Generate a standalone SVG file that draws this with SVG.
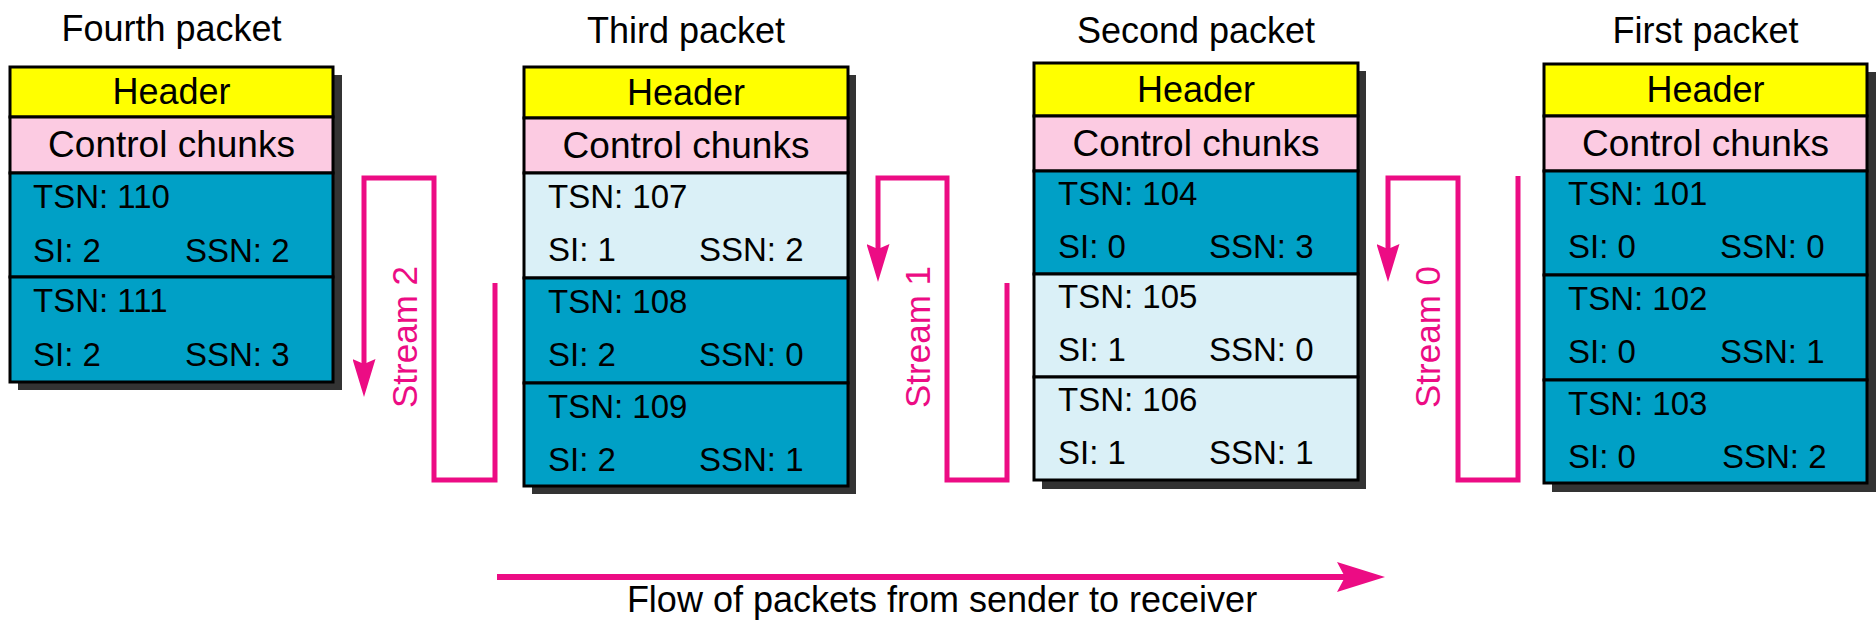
<svg xmlns="http://www.w3.org/2000/svg" width="1876" height="629" viewBox="0 0 1876 629">
<style>
text{font-family:"Liberation Sans",Arial,sans-serif;fill:#000}
.title{font-size:36px;text-anchor:middle}
.lbl{font-size:36px;text-anchor:middle}
.cl{font-size:37px;text-anchor:middle}
.ck{font-size:33px}
.sh{fill:#333}
.sec{stroke:#000;stroke-width:3}
.hd{fill:#ffff00}
.cc{fill:#fccbe2}
.dk{fill:#00a0c6}
.lt{fill:#daf0f7}
.con{fill:none;stroke:#ec0c84;stroke-width:5}
.st{font-size:35px;fill:#ec0c84}
</style>
<defs>
<marker id="ah" markerUnits="userSpaceOnUse" viewBox="0 0 38 23" markerWidth="38" markerHeight="23" refX="5" refY="11.5" orient="auto">
<path d="M0,0 L38,11.5 L0,23 L5,11.5 Z" fill="#ec0c84"/>
</marker>
<marker id="ahb" markerUnits="userSpaceOnUse" viewBox="0 0 48 30" markerWidth="48" markerHeight="30" refX="8" refY="15" orient="auto">
<path d="M0,0 L48,15 L0,30 L8,15 Z" fill="#ec0c84"/>
</marker>
</defs>

<g id="fourth-packet">
<text class="title" x="171.5" y="41">Fourth packet</text>
<rect class="sh" x="18" y="75" width="324" height="315"/>
<rect class="sec hd" x="10" y="67" width="323" height="50"/>
<rect class="sec cc" x="10" y="117" width="323" height="56"/>
<rect class="sec dk" x="10" y="173" width="323" height="104"/>
<rect class="sec dk" x="10" y="277" width="323" height="105"/>
<text class="lbl" x="171.5" y="104">Header</text>
<text class="cl" x="171.5" y="157">Control chunks</text>
<text class="ck" x="33" y="208">TSN: 110</text>
<text class="ck" x="33" y="262">SI: 2</text>
<text class="ck" x="185" y="262">SSN: 2</text>
<text class="ck" x="33" y="312">TSN: 111</text>
<text class="ck" x="33" y="366">SI: 2</text>
<text class="ck" x="185" y="366">SSN: 3</text>
</g>

<g id="third-packet">
<text class="title" x="686" y="43">Third packet</text>
<rect class="sh" x="532" y="75" width="324" height="419"/>
<rect class="sec hd" x="524" y="67" width="324" height="51"/>
<rect class="sec cc" x="524" y="118" width="324" height="55"/>
<rect class="sec lt" x="524" y="173" width="324" height="105"/>
<rect class="sec dk" x="524" y="278" width="324" height="105"/>
<rect class="sec dk" x="524" y="383" width="324" height="103"/>
<text class="lbl" x="686" y="105">Header</text>
<text class="cl" x="686" y="158">Control chunks</text>
<text class="ck" x="548" y="208">TSN: 107</text>
<text class="ck" x="548" y="261">SI: 1</text>
<text class="ck" x="699" y="261">SSN: 2</text>
<text class="ck" x="548" y="313">TSN: 108</text>
<text class="ck" x="548" y="366">SI: 2</text>
<text class="ck" x="699" y="366">SSN: 0</text>
<text class="ck" x="548" y="418">TSN: 109</text>
<text class="ck" x="548" y="471">SI: 2</text>
<text class="ck" x="699" y="471">SSN: 1</text>
</g>

<g id="second-packet">
<text class="title" x="1196" y="43">Second packet</text>
<rect class="sh" x="1042" y="71" width="324" height="418"/>
<rect class="sec hd" x="1034" y="63" width="324" height="53"/>
<rect class="sec cc" x="1034" y="116" width="324" height="55"/>
<rect class="sec dk" x="1034" y="171" width="324" height="103"/>
<rect class="sec lt" x="1034" y="274" width="324" height="103"/>
<rect class="sec lt" x="1034" y="377" width="324" height="103"/>
<text class="lbl" x="1196" y="102">Header</text>
<text class="cl" x="1196" y="156">Control chunks</text>
<text class="ck" x="1058" y="205">TSN: 104</text>
<text class="ck" x="1058" y="258">SI: 0</text>
<text class="ck" x="1209" y="258">SSN: 3</text>
<text class="ck" x="1058" y="308">TSN: 105</text>
<text class="ck" x="1058" y="361">SI: 1</text>
<text class="ck" x="1209" y="361">SSN: 0</text>
<text class="ck" x="1058" y="411">TSN: 106</text>
<text class="ck" x="1058" y="464">SI: 1</text>
<text class="ck" x="1209" y="464">SSN: 1</text>
</g>

<g id="first-packet">
<text class="title" x="1705.5" y="43">First packet</text>
<rect class="sh" x="1552" y="72" width="324" height="420"/>
<rect class="sec hd" x="1544" y="64" width="323" height="52"/>
<rect class="sec cc" x="1544" y="116" width="323" height="55"/>
<rect class="sec dk" x="1544" y="171" width="323" height="104"/>
<rect class="sec dk" x="1544" y="275" width="323" height="105"/>
<rect class="sec dk" x="1544" y="380" width="323" height="103"/>
<text class="lbl" x="1705.5" y="102">Header</text>
<text class="cl" x="1705.5" y="156">Control chunks</text>
<text class="ck" x="1568" y="205">TSN: 101</text>
<text class="ck" x="1568" y="258">SI: 0</text>
<text class="ck" x="1720" y="258">SSN: 0</text>
<text class="ck" x="1568" y="310">TSN: 102</text>
<text class="ck" x="1568" y="363">SI: 0</text>
<text class="ck" x="1720" y="363">SSN: 1</text>
<text class="ck" x="1568" y="415">TSN: 103</text>
<text class="ck" x="1568" y="468">SI: 0</text>
<text class="ck" x="1722" y="468">SSN: 2</text>
</g>

<g id="connectors">
<path class="con" d="M495,283 V480 H434 V178 H364 V364" marker-end="url(#ah)"/>
<path class="con" d="M1007,283 V480 H947 V178 H878 V249" marker-end="url(#ah)"/>
<path class="con" d="M1518,176 V480 H1458 V178 H1388 V249" marker-end="url(#ah)"/>
<text class="st" transform="translate(417,408) rotate(-90)">Stream 2</text>
<text class="st" transform="translate(930,408) rotate(-90)">Stream 1</text>
<text class="st" transform="translate(1440,408) rotate(-90)">Stream 0</text>
<path d="M497,577 H1345" fill="none" stroke="#ec0c84" stroke-width="6" marker-end="url(#ahb)"/>
<text class="lbl" x="942" y="612">Flow of packets from sender to receiver</text>
</g>
</svg>
